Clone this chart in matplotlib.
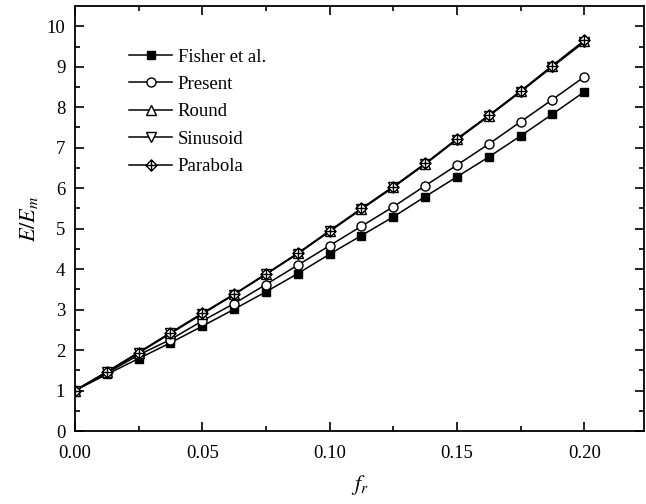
import numpy as np
import matplotlib
matplotlib.use("Agg")
from matplotlib import pyplot as plt
from matplotlib.path import Path

# data
fr = [0.0, 0.0125, 0.025, 0.0375, 0.05, 0.0625, 0.075, 0.0875, 0.1,
      0.1125, 0.125, 0.1375, 0.15, 0.1625, 0.175, 0.1875, 0.2]
fisher = [1.0, 1.40, 1.79, 2.18, 2.59, 3.01, 3.44, 3.89, 4.37,
          4.83, 5.29, 5.79, 6.28, 6.77, 7.29, 7.83, 8.38]
present = [1.0, 1.43, 1.88, 2.26, 2.72, 3.15, 3.62, 4.10, 4.58,
           5.06, 5.54, 6.06, 6.57, 7.09, 7.64, 8.19, 8.75]
round_ = [1.0, 1.46, 1.94, 2.42, 2.90, 3.38, 3.88, 4.39, 4.94,
          5.49, 6.03, 6.60, 7.21, 7.79, 8.39, 9.01, 9.63]
sinusoid = [1.0, 1.46, 1.93, 2.41, 2.89, 3.37, 3.87, 4.38, 4.93,
            5.48, 6.02, 6.59, 7.20, 7.78, 8.38, 9.00, 9.61]
parabola = [1.0, 1.46, 1.94, 2.43, 2.91, 3.38, 3.88, 4.39, 4.95,
            5.50, 6.04, 6.61, 7.22, 7.80, 8.40, 9.03, 9.65]

plt.rcParams['font.family'] = 'Liberation Serif'
plt.rcParams['mathtext.fontset'] = 'stix'
plt.rcParams['font.size'] = 13.5
plt.rcParams['xtick.direction'] = 'in'
plt.rcParams['ytick.direction'] = 'in'

# diamond with a cross inside
verts = [(0, 1), (1, 0), (0, -1), (-1, 0), (0, 1),
         (0, 1), (0, -1), (-1, 0), (1, 0)]
codes = [Path.MOVETO, Path.LINETO, Path.LINETO, Path.LINETO, Path.CLOSEPOLY,
         Path.MOVETO, Path.LINETO, Path.MOVETO, Path.LINETO]
diamond_cross = Path(verts, codes)

fig = plt.figure(figsize=(6.46, 5.04), dpi=100)
ax = fig.add_axes([0.1161, 0.1448, 0.8809, 0.8432])

lw = 1.1
ax.plot(fr, fisher, color='black', lw=lw, marker='s', ms=5.5,
        mfc='black', mec='black', label='Fisher et al.')
ax.plot(fr, present, color='black', lw=lw, marker='o', ms=6.5,
        mfc='white', mec='black', label='Present')
ax.plot(fr, round_, color='black', lw=lw, marker='^', ms=6.5,
        mfc='white', mec='black', label='Round')
ax.plot(fr, sinusoid, color='black', lw=lw, marker='v', ms=6.5,
        mfc='white', mec='black', label='Sinusoid')
ax.plot(fr, parabola, color='black', lw=lw, marker=diamond_cross, ms=8,
        mfc='white', mec='black', label='Parabola')

ax.set_xlim(0, 0.2235)
ax.set_ylim(0, 10.5)
ax.set_xticks([0.0, 0.05, 0.10, 0.15, 0.20])
ax.set_xticklabels(['0.00', '0.05', '0.10', '0.15', '0.20'])
ax.set_xticks(np.arange(0.025, 0.22, 0.05), minor=True)
ax.set_yticks(range(0, 11))
ax.set_yticks(np.arange(0.5, 10.5, 1.0), minor=True)

ax.tick_params(which='both', top=True, right=True, width=1.2)
ax.tick_params(which='major', length=6.5)
ax.tick_params(axis='x', which='major', pad=10)
ax.tick_params(axis='y', which='major', pad=7)
ax.tick_params(which='minor', length=3.6)
for s in ax.spines.values():
    s.set_linewidth(1.3)

ax.set_xlabel('$f_r$', fontsize=16, labelpad=8)
ax.set_ylabel('$E/E_m$', fontsize=16, labelpad=5)

ax.legend(loc='upper left', bbox_to_anchor=(0.082, 0.918), frameon=False,
          handlelength=2.3, handletextpad=0.3, labelspacing=0.55,
          borderaxespad=0.0, fontsize=13.5)

fig.savefig('out.png', dpi=100)
